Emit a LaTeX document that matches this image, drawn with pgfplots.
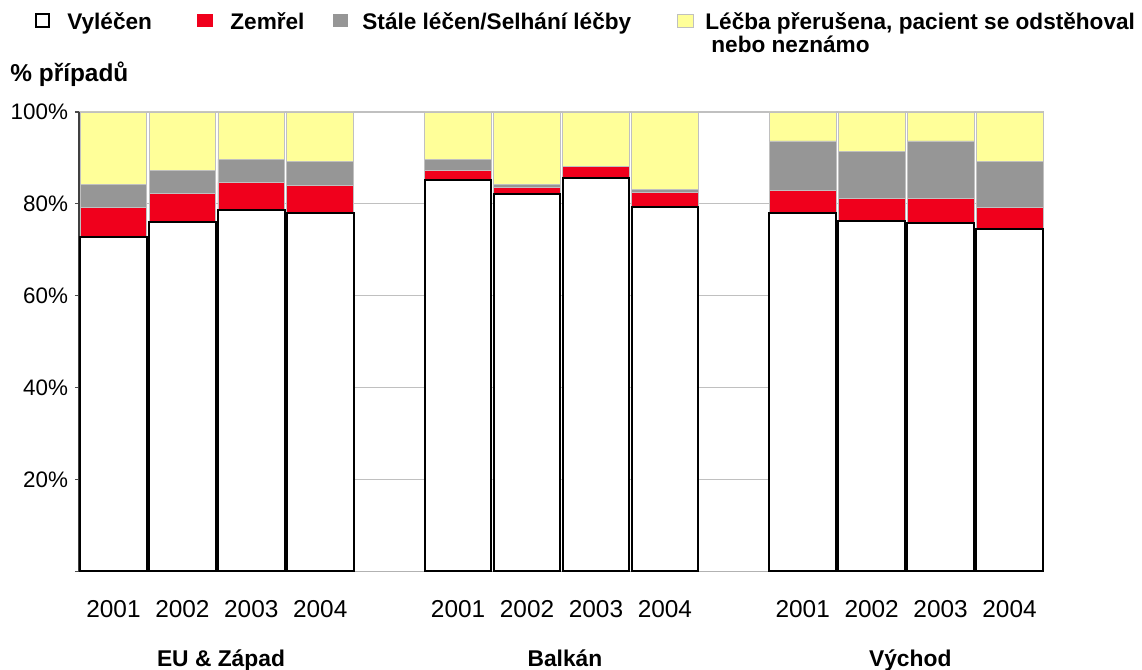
\documentclass[border=0pt]{standalone}
\usepackage{fontspec}
\setmainfont{Liberation Sans}
\usepackage{pgfplots}
\pgfplotsset{compat=1.18}
\definecolor{cred}{RGB}{240,0,28}
\definecolor{cgray}{RGB}{150,150,150}
\definecolor{cyel}{RGB}{255,255,153}
\definecolor{cborder}{RGB}{192,192,192}
\begin{document}
\begin{tikzpicture}[x=1pt,y=1pt]
\useasboundingbox (0,0) rectangle (571,335);
\begin{axis}[
  at={(39.5pt,49.25pt)}, anchor=south west,
  scale only axis, width=482.5pt, height=229.75pt,
  xmin=-0.5, xmax=13.5, ymin=0, ymax=100,
  ybar stacked, bar width=0.968,
  axis lines=left, axis line style={-},
  ytick={0,20,40,60,80,100},
  yticklabels={,20\%,40\%,60\%,80\%,100\%},
  xtick={0,1,2,3,5,6,7,8,10,11,12,13},
  xticklabels={2001,2002,2003,2004,2001,2002,2003,2004,2001,2002,2003,2004},
  tick align=outside, major tick length=2pt,
  xtick style={draw=none},
  ytick style={draw=black!70, line width=0.6pt},
  ymajorgrids, grid style={draw=cborder, line width=0.6pt},
  x axis line style={draw=gray!60, line width=0.8pt},
  y axis line style={draw=black!75, line width=0.8pt},
  tick label style={font=\fontsize{11.2}{13}\selectfont},
  xticklabel style={font=\fontsize{12.2}{14}\selectfont, yshift=-9pt},
  clip=false,
]
\addplot[fill=white, draw=none] coordinates {(0,72.9)(1,76.1)(2,78.7)(3,78.1)(5,85.2)(6,82.2)(7,85.6)(8,79.3)(10,78.0)(11,76.3)(12,75.9)(13,74.5)};
\addplot[fill=cred, draw=cborder, line width=0.4pt] coordinates {(0,6.4)(1,6.1)(2,6.0)(3,5.9)(5,2.0)(6,1.4)(7,2.5)(8,3.1)(10,4.9)(11,4.8)(12,5.2)(13,4.8)};
\addplot[fill=cgray, draw=cborder, line width=0.4pt] coordinates {(0,5.0)(1,5.0)(2,5.0)(3,5.3)(5,2.4)(6,0.7)(7,0.0)(8,0.8)(10,10.8)(11,10.3)(12,12.6)(13,10.0)};
\addplot[fill=cyel, draw=cborder, line width=0.4pt] coordinates {(0,15.7)(1,12.8)(2,10.3)(3,10.7)(5,10.4)(6,15.7)(7,11.9)(8,16.8)(10,6.3)(11,8.6)(12,6.3)(13,10.7)};
\node[anchor=base, font=\bfseries\fontsize{11.4}{13}\selectfont] at ([yshift=-47.5pt]axis cs:1.56,0) {EU \& Západ};
\node[anchor=base, font=\bfseries\fontsize{11.4}{13}\selectfont] at ([yshift=-47.5pt]axis cs:6.55,0) {Balkán};
\node[anchor=base, font=\bfseries\fontsize{11.4}{13}\selectfont] at ([yshift=-47.5pt]axis cs:11.56,0) {Východ};
\end{axis}
\begin{axis}[
  at={(39.5pt,49.25pt)}, anchor=south west,
  scale only axis, width=482.5pt, height=229.75pt,
  xmin=-0.5, xmax=13.5, ymin=0, ymax=100,
  hide axis, ybar, bar width=0.968, clip=false,
]
\addplot[fill=none, draw=black, line width=1pt] coordinates {(0,72.9)(1,76.1)(2,78.7)(3,78.1)(5,85.2)(6,82.2)(7,85.6)(8,79.3)(10,78.0)(11,76.3)(12,75.9)(13,74.5)};
\end{axis}
% legend
\draw[black, line width=1pt, fill=white] (18.2,321.5) rectangle (24.5,328);
\fill[cred] (98.5,321.5) rectangle (106.5,328);
\fill[cgray] (166.5,321.5) rectangle (174,328);
\draw[cborder, line width=0.4pt, fill=cyel] (338.5,321.5) rectangle (346.5,328);
\begin{scope}[every node/.style={anchor=base west, inner sep=0pt, font=\bfseries\fontsize{11.3}{13}\selectfont}]
\node at (33.5,320.25) {Vyléčen};
\node at (115,320.25) {Zemřel};
\node at (181,320.25) {Stále léčen/Selhání léčby};
\node at (352.5,320.25) {Léčba přerušena, pacient se odstěhoval};
\node at (355.5,308.5) {nebo neznámo};
\node[font=\bfseries\fontsize{12.2}{14}\selectfont] at (5,294) {\% případů};
\end{scope}
\end{tikzpicture}
\end{document}
